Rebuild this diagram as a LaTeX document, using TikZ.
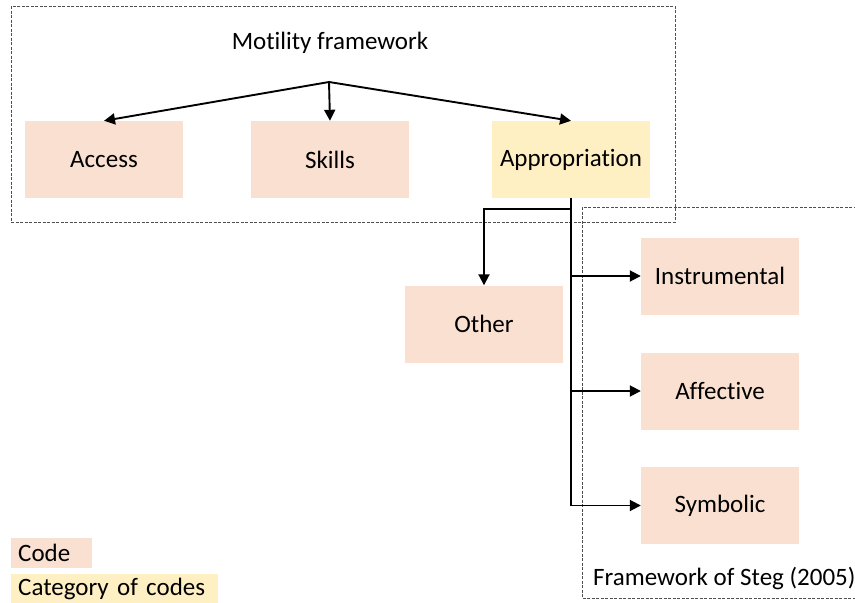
\documentclass[tikz,border=0pt]{standalone}
\usepackage{fontspec}
\setmainfont{Carlito}[Ligatures=NoCommon]
\usetikzlibrary{arrows.meta}
\definecolor{codefill}{HTML}{F9E0D1}
\definecolor{catfill}{HTML}{FFF0C4}
\definecolor{framecol}{HTML}{505050}
\begin{document}
\begin{tikzpicture}[x=1pt,y=-1pt,
  font=\fontsize{25}{29}\selectfont,
  codebox/.style={fill=codefill, minimum width=158pt, minimum height=77pt, inner sep=0pt},
  catbox/.style={fill=catfill, minimum width=158pt, minimum height=77pt, inner sep=0pt},
  frame/.style={draw=framecol, line width=0.8pt, dash pattern=on 3pt off 1.5pt},
  conn/.style={draw=black, line width=1.9pt, -{Triangle[length=11pt,width=11pt]}},
  legendbox/.style={anchor=north west, inner xsep=7pt, inner ysep=0pt, minimum height=30pt, align=left}
]
\useasboundingbox (0,0) rectangle (855,603);
% frames
\draw[frame] (11,6) rectangle (675,222);
\draw[frame] (582,207) rectangle (875,598);
% title
\node (title) at (330,43) {Motility framework};
\coordinate (m) at (329,82);
% boxes
\node[codebox] (access) at (104,159.5) {Access};
\node[codebox] (skills) at (330,159.5) {Skills};
\node[catbox] (appr) at (571,159.5) {Appropriation};
\node[codebox] (other) at (484,324) {Other};
\node[codebox] (instr) at (720,276) {Instrumental};
\node[codebox] (affect) at (720,391) {Affective};
\node[codebox] (symb) at (720,505.5) {Symbolic};
% connectors
\draw[conn] (m) -- (access.north);
\draw[conn] (m) -- (skills.north);
\draw[conn] (m) -- (appr.north);
\draw[conn] (appr.south) |- (symb.west);
\draw[conn] (appr.south |- instr.west) -- (instr.west);
\draw[conn] (appr.south |- affect.west) -- (affect.west);
\draw[conn] (appr.south) -- ++(0,11) -| (other.north);
% frame label
\node[anchor=west, inner sep=0pt] (steg) at (593,578) {Framework of Steg (2005)};
% legend
\node[legendbox, fill=codefill, text width=67pt] (lcode) at (11,538) {Code};
\node[legendbox, fill=catfill, text width=193pt] (lcat) at (11,574) {Category of codes};
\end{tikzpicture}
\end{document}
